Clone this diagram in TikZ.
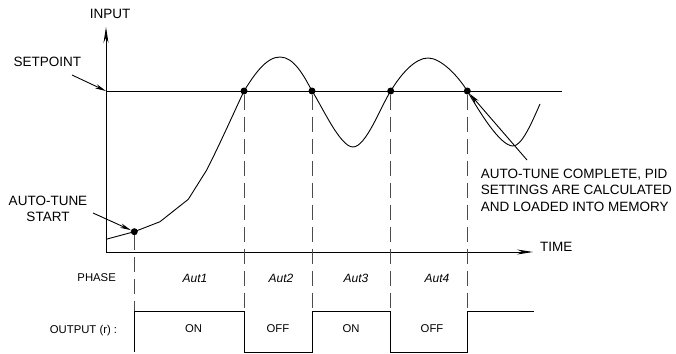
\documentclass[tikz,border=0pt]{standalone}
\usepackage{fontspec}
\setmainfont{Liberation Sans}
\usepackage{tikz}
\usetikzlibrary{arrows.meta, calc}
\tikzstyle{bigtext} = [font=\fontsize{13.5}{16.3}\selectfont, inner sep=0pt]
\tikzstyle{smalltext} = [font=\fontsize{11.3}{13}\selectfont, inner sep=0pt]
\tikzstyle{phasetext} = [font=\fontsize{12}{13}\selectfont\itshape, inner sep=0pt]
\tikzstyle{dot} = [circle, fill=black, inner sep=0pt, minimum size=7pt]
\tikzstyle{curve} = [line width=0.9pt]
\tikzstyle{axis} = [line width=0.9pt, -{Stealth[length=16pt,width=5pt]}]
\tikzstyle{arrow} = [line width=0.9pt, -{Stealth[length=11pt,width=4.5pt]}]
\tikzstyle{guide} = [line width=0.9pt, black!70,
dash pattern=on 15pt off 7pt]

\begin{document}
\begin{tikzpicture}[x=1pt, y=-1pt]
            \useasboundingbox (0,0) rectangle (676,353);

            \coordinate (origin) at (106,252);
            \coordinate (ytip) at (106,27);
            \coordinate (xtip) at (533,252);
            \coordinate (sp0) at (106,91);
            \coordinate (sp1) at (562,91);
            \coordinate (hi) at (0,311.7);
            \coordinate (lo) at (0,352);
            \coordinate (outend) at (534,311.7);

            \node (start) [dot] at (134.3,231.7) {};
            \node (x1) [dot] at (244,91) {};
            \node (x2) [dot] at (312,91) {};
            \node (x3) [dot] at (390.7,91) {};
            \node (x4) [dot] at (467.3,91) {};

            \node (input) [bigtext, anchor=base] at (110,18.3) {INPUT};
            \node (setpoint) [bigtext, anchor=base west] at (13.3,66) {SETPOINT};
            \node (atstart) [bigtext, anchor=north, align=center] at (48,195.5) {AUTO-TUNE\\START};
            \node (atdone) [bigtext, anchor=north west, align=left] at (480.7,169)
                {AUTO-TUNE COMPLETE, PID\\SETTINGS ARE CALCULATED\\AND LOADED INTO MEMORY};
            \node (time) [bigtext, anchor=base west] at (540,251) {TIME};
            \node (phase) [smalltext, anchor=base east] at (116,281.7) {PHASE};
            \node (output) [smalltext, anchor=base east] at (117.3,333.3) {OUTPUT (r) :};

            \node (aut1) [phasetext, anchor=base] at (195,282) {Aut1};
            \node (aut2) [phasetext, anchor=base] at (281,282) {Aut2};
            \node (aut3) [phasetext, anchor=base] at (356,282) {Aut3};
            \node (aut4) [phasetext, anchor=base] at (437,282) {Aut4};
            \node (on1) [smalltext, anchor=base] at (193.5,332.5) {ON};
            \node (off1) [smalltext, anchor=base] at (278,332.5) {OFF};
            \node (on2) [smalltext, anchor=base] at (351,332.5) {ON};
            \node (off2) [smalltext, anchor=base] at (432,332.5) {OFF};

            \draw [axis] (origin) -- (ytip);
            \draw [axis] (origin) -- (xtip);
            \draw [curve] (sp0) -- (sp1);

            \draw [curve] (106,239.3) -- (start.center) -- (160,221.7) -- (188.3,199.3) -- (206.7,170)
                .. controls (219,146) and (236,108) .. (x1.center)
                .. controls (254,75) and (266,57) .. (280,57)
                .. controls (294,57) and (304,76) .. (x2.center)
                .. controls (322,106) and (340,147) .. (353,147)
                .. controls (366,147) and (381,106) .. (x3.center)
                .. controls (401,74) and (415,58) .. (428,58)
                .. controls (441,58) and (458,76) .. (x4.center)
                .. controls (479,111) and (500,146) .. (513,146)
                .. controls (522,146) and (532,122) .. (540,104);

            \draw [guide] (start) -- (start |- hi);
            \foreach \p in {x1,x2,x3,x4}
                \draw [guide] (\p) -- (\p |- hi);

            \draw [curve] (start |- lo) -- (start |- hi) -- (x1 |- hi) -- (x1 |- lo)
                -- (x2 |- lo) -- (x2 |- hi) -- (x3 |- hi) -- (x3 |- lo)
                -- (x4 |- lo) -- (x4 |- hi) -- (outend);

            \coordinate (spfrom) at (72,75);
            \coordinate (startfrom) at (93,213);
            \coordinate (donefrom) at (527,160);
            \draw [arrow] (spfrom) -- (sp0);
            \draw [arrow] (startfrom) -- (start);
            \draw [arrow] (donefrom) -- (x4);
        \end{tikzpicture}
\end{document}
